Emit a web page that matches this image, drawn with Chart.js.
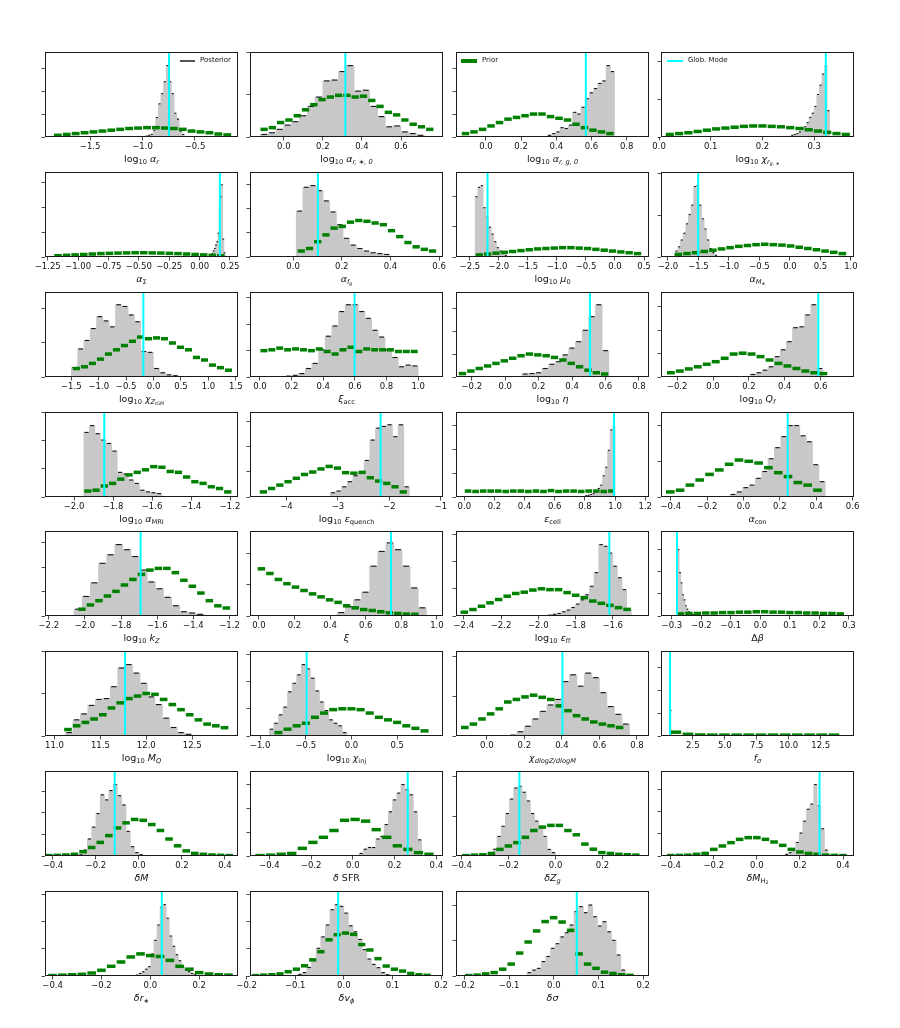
<!DOCTYPE html>
<html>
<head>
<meta charset="utf-8">
<script src="https://cdn.jsdelivr.net/npm/chart.js@4.4.0/dist/chart.umd.min.js"></script>
<style>
body { margin: 0; background: #fff; }
#fig { position: relative; width: 900px; height: 1028px; font-family: "DejaVu Sans", sans-serif; color: #111; }
#fig canvas { position: absolute; }
.xl { position: absolute; width: 193px; text-align: center; font-size: 9.5px; line-height: 1; white-space: nowrap; }
.xl sub { font-size: 70%; vertical-align: -0.3em; line-height: 0; }
.lg { position: absolute; font-size: 7px; line-height: 1; white-space: nowrap; }
.lgl { position: absolute; }
</style>
</head>
<body>
<div id="fig"></div>
<script>
// panel grid (axes boxes)
const colX = [45, 250, 456, 661];
const rowY = [52, 172, 292, 412, 531, 651, 771, 891];
const AW = 193, AH = 85;

const xTitles = [
  'log<sub>10</sub> <i>α<sub>r</sub></i>',
  'log<sub>10</sub> <i>α<sub>r, ∗, 0</sub></i>',
  'log<sub>10</sub> <i>α<sub>r, g, 0</sub></i>',
  'log<sub>10</sub> <i>χ<sub>r<sub>g, ∗</sub></sub></i>',
  '<i>α</i><sub>Σ</sub>',
  '<i>α<sub>f<sub>g</sub></sub></i>',
  'log<sub>10</sub> <i>μ</i><sub>0</sub>',
  '<i>α<sub>M<sub>∗</sub></sub></i>',
  'log<sub>10</sub> <i>χ<sub>Z<sub>IGM</sub></sub></i>',
  '<i>ξ</i><sub>acc</sub>',
  'log<sub>10</sub> <i>η</i>',
  'log<sub>10</sub> <i>Q<sub>f</sub></i>',
  'log<sub>10</sub> <i>α</i><sub>MRI</sub>',
  'log<sub>10</sub> <i>ε</i><sub>quench</sub>',
  '<i>ε</i><sub>cell</sub>',
  '<i>α</i><sub>con</sub>',
  'log<sub>10</sub> <i>k<sub>Z</sub></i>',
  '<i>ξ</i>',
  'log<sub>10</sub> <i>ε</i><sub>ff</sub>',
  'Δ<i>β</i>',
  'log<sub>10</sub> <i>M<sub>Q</sub></i>',
  'log<sub>10</sub> <i>χ</i><sub>inj</sub>',
  '<i>χ<sub>dlogZ/dlogM</sub></i>',
  '<i>f<sub>σ</sub></i>',
  '<i>δM</i>',
  '<i>δ</i> SFR',
  '<i>δZ<sub>g</sub></i>',
  '<i>δM</i><sub>H<sub>2</sub></sub>',
  '<i>δr<sub>∗</sub></i>',
  '<i>δv<sub>ϕ</sub></i>',
  '<i>δσ</i>'
];

const xLimits = [
  [-1.93, -0.09], [-0.173, 0.815], [-0.17, 0.927], [0.0038, 0.377],
  [-1.272, 0.316], [-0.177, 0.616], [-2.74, 0.586], [-2.114, 1.05],
  [-1.98, 1.54], [-0.063, 1.157], [-0.294, 0.86], [-0.29, 0.786],
  [-2.149, -1.159], [-4.71, -0.957], [-0.055, 1.225], [-0.454, 0.608],
  [-2.221, -1.153], [-0.05, 1.034], [-2.442, -1.405], [-0.337, 0.317],
  [10.897, 12.999], [-1.111, 1.002], [-0.164, 0.864], [0.015, 15.1],
  [-0.437, 0.461], [-0.493, 0.432], [-0.424, 0.398], [-0.445, 0.451],
  [-0.431, 0.359], [-0.193, 0.204], [-0.219, 0.213]
];

const xTicks = [
  [-1.5, -1.0, -0.5], [0, 0.2, 0.4, 0.6], [0, 0.2, 0.4, 0.6, 0.8], [0, 0.1, 0.2, 0.3],
  [-1.25, -1, -0.75, -0.5, -0.25, 0, 0.25], [0, 0.2, 0.4, 0.6], [-2.5, -2, -1.5, -1, -0.5, 0, 0.5], [-2, -1.5, -1, -0.5, 0, 0.5, 1],
  [-1.5, -1, -0.5, 0, 0.5, 1, 1.5], [0, 0.2, 0.4, 0.6, 0.8, 1], [-0.2, 0, 0.2, 0.4, 0.6, 0.8], [-0.2, 0, 0.2, 0.4, 0.6],
  [-2, -1.8, -1.6, -1.4, -1.2], [-4, -3, -2, -1], [0, 0.2, 0.4, 0.6, 0.8, 1, 1.2], [-0.4, -0.2, 0, 0.2, 0.4, 0.6],
  [-2.2, -2, -1.8, -1.6, -1.4, -1.2], [0, 0.2, 0.4, 0.6, 0.8, 1], [-2.4, -2.2, -2, -1.8, -1.6], [-0.3, -0.2, -0.1, 0, 0.1, 0.2, 0.3],
  [11, 11.5, 12, 12.5], [-1, -0.5, 0, 0.5], [0, 0.2, 0.4, 0.6, 0.8], [2.5, 5, 7.5, 10, 12.5],
  [-0.4, -0.2, 0, 0.2, 0.4], [-0.4, -0.2, 0, 0.2, 0.4], [-0.4, -0.2, 0, 0.2], [-0.4, -0.2, 0, 0.2, 0.4],
  [-0.4, -0.2, 0, 0.2], [-0.2, -0.1, 0, 0.1, 0.2], [-0.2, -0.1, 0, 0.1, 0.2]
];

const tickDecimals = [1,1,1,1, 2,1,1,1, 1,1,1,1, 1,0,1,1, 1,1,1,1, 1,1,1,1, 1,1,1,1, 1,1,1];

// y axis: 0..100 (% of panel height), unlabeled ticks every step
const yTickStep = [26.7,49.5,26.7,44.7, 29.3,28.5,35.5,49, 40.5,31,27,27.5, 33,29.7,28,42,
                   28.7,37,32,26, 50,31.8,47,26.7, 25.3,28,47,26, 32,32,41.7];

const modes = [-0.748, 0.315, 0.568, 0.3225, 0.167, 0.102, -2.197, -1.505,
               -0.186, 0.598, 0.507, 0.587, -1.845, -2.17, 0.993, 0.243,
               -1.692, 0.742, -1.618, -0.283, 11.769, -0.491, 0.403, 0.72,
               -0.1126, 0.263, -0.154, 0.291, 0.047, -0.0117, 0.0514];

// [first edge, bin width]
const postBins = [[-0.975,0.025],[-0.12,0.04],[0.35,0.0238],[0.255,0.005],
  [0.09,0.01],[0.013,0.0275],[-2.41,0.046],[-1.88,0.043],
  [-1.5,0.115],[0.16,0.042],[0.1,0.04],[0.205,0.034],
  [-1.95,0.0286],[-3.15,0.11],[0.8,0.0167],[-0.075,0.035],
  [-2.06,0.045],[0.44,0.0455],[-1.95,0.025],[-0.285,0.005],
  [11.12,0.0812],[-0.9,0.05],[0.08,0.04],[0.68,0.04],
  [-0.28,0.02],[0.03,0.02],[-0.285,0.0178],[0.13,0.0167],
  [-0.06,0.0125],[-0.095,0.0095],[-0.06,0.0105]];

const priorBins = [[-1.85,0.085],[-0.122,0.0424],[-0.14,0.0483],[0.012,0.0179],
  [-1.2,0.0705],[0.017,0.0337],[-2.41,0.1435],[-1.9,0.1415],
  [-1.48,0.146],[0,0.05],[-0.28,0.05],[-0.26,0.05],
  [-1.95,0.0422],[-4.53,0.16],[0,0.05],[-0.43,0.054],
  [-2.04,0.047],[-0.01,0.0479],[-2.42,0.046],[-0.285,0.0285],
  [11.1,0.0947],[-0.85,0.1],[-0.14,0.0458],[0.7,0.95],
  [-0.44,0.04],[-0.47,0.0506],[-0.4,0.0362],[-0.42,0.04],
  [-0.42,0.04],[-0.19,0.0168],[-0.2,0.019]];

// posterior histograms
const post1 = [1,2,3,8,23,39,51,65,84,65,51,28,21,7,3];
const post2 = [3,5,9,14,18,25,36,47,66,67,77,84,54,55,36,24,12,13,6,4,2];
const post3 = [2,4,6,11,10,14,29,27,35,45,52,57,63,66,84,77];
const post4 = [2,3,4,6,10,12,17,23,28,36,50,61,74,84,31];
const post5 = [2,4,7,10,14,18,28,57,71,85,21,5];
const post6 = [54,82,84,78,66,53,38,22,14,10,7,5,4,3];
const post7 = [71,82,84,58,47,35,27,18,11,7,4,2];
const post8 = [7,12,20,28,39,50,61,83,84,61,45,33,20,10,5,2];
const post9 = [11,33,43,57,71,66,59,85,83,73,65,30,29,10,5,2.5,1.5];
const post10 = [1,2,4,10,16,32,48,60,77,85,85,77,69,55,47,32,23,12,14,13];
const post11 = [3.5,4,5,10,15,18,26,34,41.5,55,71,85,31];
const post12 = [3,5,8,12,24,32,41.5,58,59,73,85,10];
const post13 = [76,84,74.5,67,63,54,29,27,20,16,8,6,5,4];
const post14 = [5,7,12,18,25,29,43,67,81,83,85,71,85,12];
const post15 = [1.5,2,3,4,6,10,14,25,35,55,79,84];
const post16 = [3,6,11,14,22,30,45,58,71,84,84,72,65,38,18];
const post17 = [8,23,39,62,72,84,78,70,54,40,32,22,12,5,3.5,2];
const post18 = [4,11,19,28,58.6,76,86,78,58.6,33,9.6];
const post19 = [1,2,3,5,7,10,14,19,25,35,51,84,82,74,58.6,45,31,7.6];
const post20 = [84,78,51,39,25,19,12,8,5,3,2,1.5,1];
const post21 = [4,19,26,36,43,44,58,80,84,74,62,46,37,21,10,4,2];
const post22 = [8,15,25,34,52,62,72,84,79,68,53,40,30,19,15,12,4];
const post23 = [0.5,1,5,11.5,20,29,36.5,43,64,72,58.6,74,68.6,51,34.6,25.5,14];
const post24 = [20,85,30,5];
const post25 = [1.5,7,20,34,50,72,66,77,84,71,60,29,11,4,1.5];
const post26 = [3,8,10,10,20,23,37,52,66,74,84,78,72,52,19];
const post27 = [4,8,23,35,50,67,80,82,75,64.7,50,41,34.6,23,7.8,4];
const post28 = [2,4,8,16,27,41,55,61,84,59,32,7];
const post29 = [1,3,5,8,11,26,42,60,81,84,68,47,35,25,18,11,8,5,3,1.5];
const post30 = [2,4,10,18.8,32.6,46,60,78,84,82,74,59,52,43,31,20,13.7,9.8,4,1.5];
const post31 = [4,7,9,17,23,32.6,38,46,51,60,75.7,81.6,74.5,83.5,69.8,58.8,63.9,52,42,24.7,7];

// prior histograms
const prior1 = [2,3,4,5,6,7,8,9,10,10.5,11,11,10.5,10,9,7,6,5,3.5,2.5];
const prior2 = [9,11,17,20,25,32,38,44,47,49,49,47,48,43,36,29,26,20,15,12,9];
const prior3 = [4,6,9,13,17,21,23,25,27,27,24,22,20,15,11,8,6,4];
const prior4 = [3,4,5,6.5,8,9.5,10.5,11.5,12.5,13,13,12.5,12,11,10,8.5,7,5.5,4,3];
const prior5 = [1.5,2,2.5,3,3.5,4,4.3,4.6,4.8,5,5,4.8,4.6,4.3,4,3.5,3,2.5,2,1.5];
const prior6 = [7,10,18,26,34,36,41,43,42,40,38,31,24,17,12,9,7];
const prior7 = [2.5,3.5,4.5,5.5,6.5,7.5,8.5,9.5,10,10.5,11,11,10.5,10,9,8,7,6,5,4];
const prior8 = [3,4,5,6.5,8,9.5,11,12.5,13.5,14.5,15,14.5,14,13,11.5,10,8.5,7,5.5,4];
const prior9 = [10,12,16,21,27,32,37,42,47,45,46,45,40,35,32,23,20,14,11,8];
const prior10 = [31,32,34,32,33,32,31,33,30,27,32,35,30,33,32,32,32,30,30,30];
const prior11 = [4,7,10,13,16,19,22,25,27,26,25,23,20,16,12,8,5,3.5];
const prior12 = [5,7,9.5,12,15,18,22,27,28,27,24,20,16,13,10,7,5,4];
const prior13 = [7,8,13,16,21,26,29,32,35.7,35,30,29,23.5,18,16,12,10,6];
const prior14 = [6,10,14,18,22,26.5,29.4,33,36,34,28.6,28,29,22.7,18.8,16,12,6];
const prior15 = [7,6.5,7,7,7,6.5,7,7,6.5,7,6.5,7.5,6.5,7,7,6.5,7,7,6.5,7];
const prior16 = [6,8,14,20,26.6,31.8,38.5,43.5,42,40,34.5,28.6,24,17,14,8];
const prior17 = [8,13,18,23.5,29,36.5,43,49,54,56,56,51,42,35,27,18,12,9.4];
const prior18 = [55.5,50,43,38,34,30,26,22.5,19,16,12,9.6,7.6,6.5,5,3.7,3,2.3,2];
const prior19 = [4.5,7.6,11.5,15.5,19.4,23.3,26.5,28,30.5,32,31,31,27.5,24.4,21.6,17.6,14.9,12.5,9.8,7.8];
const prior20 = [2.5,3,3,3.5,3.5,4,4,4.5,4.5,5,5,4.5,4.5,4,4,3.5,3.5,3,3,2.5];
const prior21 = [7.6,12,16,20,25,33,39,44,47,50,49,43,37,31,25,19,14,12,9.8];
const prior22 = [4,8,12,15,22,27,31,32,32,31,27,22,19,16,12,9,6];
const prior23 = [10,14,20,26,32,40,43,46,48,45.5,43,35.5,29.8,23.9,20,16.5,14,12,10];
const prior24 = [4.5,2,1.2,1,1,1,1,1,1,1,1,1,1,1];
const prior25 = [0.5,0.8,1.2,2,5,10,16,24,33,39,43,42,37,30,20,12,6,3,2,1.2,0.8,0.5];
const prior26 = [0.5,1,2,3,9,16,22,30,42,43,41,31,22,12,7.8,3.9,2];
const prior27 = [0.5,1,1.5,3,7.8,11.8,15.7,22,30,34,36,36,30,25,14,8,4,3,2,1.5,1];
const prior28 = [0.5,0.7,1,2,3,7.8,11.8,15.7,19.6,21.6,21.6,19.6,16.5,12.5,7.8,4.7,3,2,1,0.7,0.5];
const prior29 = [0.5,1,1.5,2,3.5,6.7,11.4,16.5,22.4,26,24,23,18.4,11.4,8,4,2.4,1.5,1];
const prior30 = [0.5,1,1.5,2.5,5,8,12,19,28.6,42.6,48.6,50.5,49,37,30.6,20.4,11.7,8,5.8,3,1.5,0.8];
const prior31 = [0.5,1,2.5,4,8,14,27,40,53,64,68.6,63.5,53.7,26,14,9,4.5,3,1.5,0.8];

const posts = [post1,post2,post3,post4,post5,post6,post7,post8,post9,post10,post11,post12,post13,post14,post15,post16,
  post17,post18,post19,post20,post21,post22,post23,post24,post25,post26,post27,post28,post29,post30,post31];
const priors = [prior1,prior2,prior3,prior4,prior5,prior6,prior7,prior8,prior9,prior10,prior11,prior12,prior13,prior14,prior15,prior16,
  prior17,prior18,prior19,prior20,prior21,prior22,prior23,prior24,prior25,prior26,prior27,prior28,prior29,prior30,prior31];

Chart.defaults.font.family = '"DejaVu Sans", sans-serif';

function fmt(v, d) {
  const s = (Math.abs(v) < 1e-9 ? 0 : v).toFixed(d);
  return s.replace('-', '\u2212');
}

function toPoints(bins, h) {
  return h.map((y, i) => ({x: bins[0] + (i + 0.5) * bins[1], y: y}));
}

// width of one bin in pixels, through the x scale
function binPx(chart, w) {
  const xs = chart.scales.x;
  return Math.abs(xs.getPixelForValue(xs.min + w) - xs.getPixelForValue(xs.min));
}

const frame = {
  id: 'frame',
  afterDraw(chart) {
    const a = chart.chartArea, ctx = chart.ctx;
    ctx.save();
    ctx.strokeStyle = '#1a1a1a';
    ctx.lineWidth = 1;
    ctx.strokeRect(Math.round(a.left) + 0.5, Math.round(a.top) + 0.5,
                   Math.round(a.right - a.left) - 1, Math.round(a.bottom - a.top) - 1);
    ctx.restore();
  }
};

const fig = document.getElementById('fig');

for (let i = 0; i < posts.length; i++) {
  const col = i % 4, row = Math.floor(i / 4);
  const ax = colX[col], ay = rowY[row];

  const cv = document.createElement('canvas');
  cv.width = AW + 56; cv.height = AH + 25;
  cv.style.left = (ax - 30) + 'px';
  cv.style.top = (ay - 5) + 'px';
  fig.appendChild(cv);

  const lab = document.createElement('div');
  lab.className = 'xl';
  lab.style.left = ax + 'px';
  lab.style.top = (ay + AH + 17) + 'px';
  lab.innerHTML = xTitles[i];
  fig.appendChild(lab);

  const pb = postBins[i], qb = priorBins[i];
  const step = yTickStep[i], dec = tickDecimals[i];

  new Chart(cv, {
    type: 'bar',
    data: {
      datasets: [
        { type: 'line', data: [{x: modes[i], y: 0}, {x: modes[i], y: 100}],
          borderColor: '#00ffff', borderWidth: 2, pointRadius: 0, order: 1 },
        { type: 'scatter', data: toPoints(qb, priors[i]), pointStyle: 'line',
          pointRadius: c => binPx(c.chart, qb[1]) * 0.44,
          pointBorderColor: '#008000', pointBorderWidth: 3.5, order: 2 },
        { type: 'scatter', data: toPoints(pb, posts[i]), pointStyle: 'line',
          pointRadius: c => Math.max(binPx(c.chart, pb[1]) * 0.36, 0.8),
          pointBorderColor: '#111', pointBorderWidth: 1.1, order: 3 },
        { type: 'bar', data: toPoints(pb, posts[i]), backgroundColor: '#c8c8c8',
          barPercentage: 1, categoryPercentage: 1, order: 4 }
      ]
    },
    options: {
      responsive: false,
      animation: false,
      devicePixelRatio: 1,
      events: [],
      layout: { padding: { left: 0, top: 5, right: 26, bottom: 0 } },
      plugins: { legend: { display: false }, tooltip: { enabled: false } },
      scales: {
        x: {
          type: 'linear', offset: false,
          min: xLimits[i][0], max: xLimits[i][1],
          afterBuildTicks: axis => { axis.ticks = xTicks[i].map(v => ({value: v})); },
          afterFit: axis => { axis.height = 20; axis.paddingLeft = 0; axis.paddingRight = 0; },
          ticks: { autoSkip: false, maxRotation: 0, padding: 1.5, color: '#111',
                   font: { size: 8.5 }, callback: v => fmt(v, dec) },
          grid: { offset: false, drawOnChartArea: false, drawTicks: true, tickLength: 3.5, color: '#222', lineWidth: 0.8 },
          border: { display: false }
        },
        y: {
          type: 'linear', min: 0, max: 100,
          afterBuildTicks: axis => {
            const t = [];
            for (let v = 0; v <= 100.5; v += step) t.push({value: v});
            axis.ticks = t;
          },
          afterFit: axis => { axis.width = 30; axis.paddingTop = 0; axis.paddingBottom = 0; },
          ticks: { display: false },
          grid: { drawOnChartArea: false, drawTicks: true, tickLength: 3.5, color: '#222', lineWidth: 0.8 },
          border: { display: false }
        }
      }
    },
    plugins: [frame]
  });
}

// legends (panels 1, 3, 4)
function legendItem(x1, x2, y, color, thick, text) {
  const ln = document.createElement('div');
  ln.className = 'lgl';
  ln.style.left = x1 + 'px';
  ln.style.width = (x2 - x1) + 'px';
  ln.style.top = (y - thick / 2) + 'px';
  ln.style.height = thick + 'px';
  ln.style.background = color;
  fig.appendChild(ln);
  const tx = document.createElement('div');
  tx.className = 'lg';
  tx.style.left = (x2 + 5) + 'px';
  tx.style.top = (y - 4) + 'px';
  tx.textContent = text;
  fig.appendChild(tx);
}
legendItem(180, 195, 61, '#555', 1.3, 'Posterior');
legendItem(461, 477, 61, '#008000', 3.5, 'Prior');
legendItem(667, 683, 61, '#00ffff', 2, 'Glob. Mode');
</script>
</body>
</html>
